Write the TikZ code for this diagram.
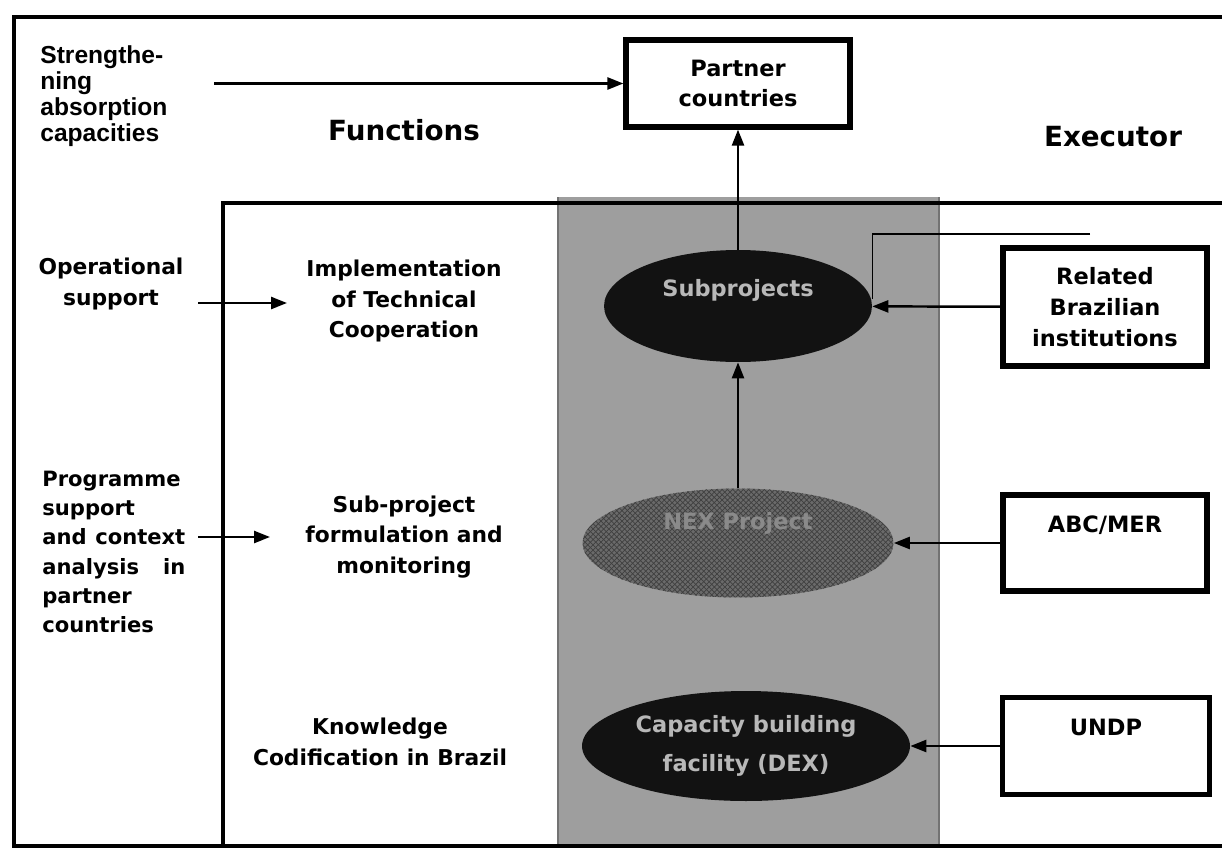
\documentclass[tikz,border=0pt]{standalone}
\usepackage{fontspec}
\setmainfont{DejaVu Sans}
\newfontfamily\arialfont{Liberation Sans}
\usetikzlibrary{shapes.geometric,arrows.meta,patterns}
\definecolor{panelgray}{HTML}{9E9E9E}
\definecolor{ovaldark}{HTML}{121212}
\definecolor{ovalmid}{HTML}{6A6A6A}
\definecolor{ovaltext}{HTML}{B8B8B8}
\definecolor{nextext}{HTML}{8A8A8A}

\tikzset{
  frameline/.style={line width=2.6pt},
  fn/.style={font=\bfseries\fontsize{12.4}{17.6}\selectfont, align=center, inner sep=0pt},
  heading/.style={font=\bfseries\fontsize{15.8}{19}\selectfont, inner sep=0pt},
  exbox/.style={draw, line width=3pt, minimum width=4.08cm, fill=white, align=center,
    font=\bfseries\fontsize{12.8}{17.6}\selectfont},
  oval/.style={ellipse, fill=ovaldark, inner sep=0pt},
  ovallbl/.style={text=ovaltext, align=center, inner sep=0pt,
    font=\bfseries\fontsize{12.8}{22}\selectfont},
  flow/.style={line width=1.4pt, -{Triangle[length=3.2mm,width=2.4mm]}},
}

\begin{document}
\begin{tikzpicture}[x=0.02cm,y=-0.02cm]
\useasboundingbox (0,0) rectangle (1222,848);
\clip (0,0) rectangle (1222,848);

% panels
\fill[panelgray] (558,197) rectangle (939,846);
\draw[black!55, line width=0.6pt] (558,197) -- (558,846) (939,197) -- (939,846);
\draw[frameline] (1240,17) -- (14,17) -- (14,846) -- (1240,846);
\draw[frameline] (1240,203) -- (223,203) -- (223,846);

% left column
\node[font=\arialfont\bfseries\fontsize{14}{14.8}\selectfont, align=left, anchor=west, inner sep=0pt]
  (strength) at (40,96) {Strengthe-\\ning\\absorption\\capacities};
\node[fn] (opsupport) at (111,284) {Operational\\support};
\node[fn, align=left, anchor=west, font=\bfseries\fontsize{12}{16.6}\selectfont] (progsup) at (42,552)
  {Programme\\support\\\makebox[2.86cm][s]{and context}\\\makebox[2.86cm][s]{analysis in}\\partner\\countries};

% functions
\node[heading] (functions) at (404,130) {Functions};
\node[fn] (impl) at (404,301) {Implementation\\of Technical\\Cooperation};
\node[fn] (subform) at (404,537) {Sub-project\\formulation and\\monitoring};
\node[fn] (knowledge) at (380,742) {Knowledge\\Codification in Brazil};

% executor
\node[heading] (executor) at (1113,137) {Executor};
\node[exbox, minimum width=4.48cm, minimum height=1.74cm] (partner) at (738,83.5) {Partner\\countries};
\node[exbox, minimum height=2.36cm] (related) at (1105,307) {Related\\Brazilian\\institutions};
\node[exbox, minimum height=1.92cm, label={[ovallbl, text=black, yshift=0.36cm]center:ABC/MER}] (abc) at (1105,543) {};
\node[exbox, minimum width=4.14cm, minimum height=1.94cm, label={[ovallbl, text=black, yshift=0.38cm]center:UNDP}] (undp) at (1106,746) {};

% ovals
\node[oval, minimum width=5.36cm, minimum height=2.24cm,
  label={[ovallbl, yshift=0.32cm]center:Subprojects}] (subproj) at (738,306) {};
\node[oval, fill=ovalmid, postaction={pattern=crosshatch, pattern color=black!75},
  minimum width=6.22cm, minimum height=2.18cm,
  label={[ovallbl, text=nextext, yshift=0.39cm]center:NEX Project}] (nex) at (738,543) {};
\node[oval, minimum width=6.56cm, minimum height=2.2cm,
  label={[ovallbl]center:Capacity building\\facility (DEX)}] (dex) at (746,746) {};

% connectors
\coordinate (strtail) at (214,83.5);
\coordinate (opstail) at (198,303);
\coordinate (opshead) at (287,303);
\coordinate (progtail) at (198,537);
\coordinate (proghead) at (270,537);
\coordinate (relline) at (1090,234);
\draw[flow] (strtail) -- (partner.west);
\draw[flow] (opstail) -- (opshead);
\draw[flow] (progtail) -- (proghead);
\draw[flow] (subproj) -- (partner);
\draw[flow] (nex) -- (subproj);
\draw[flow] (related) -- (subproj);
\draw[flow] (abc) -- (nex);
\draw[flow] (undp) -- (dex);
\draw[line width=0.9pt] (relline) -| ([yshift=0.14cm]subproj.east);
\end{tikzpicture}
\end{document}
